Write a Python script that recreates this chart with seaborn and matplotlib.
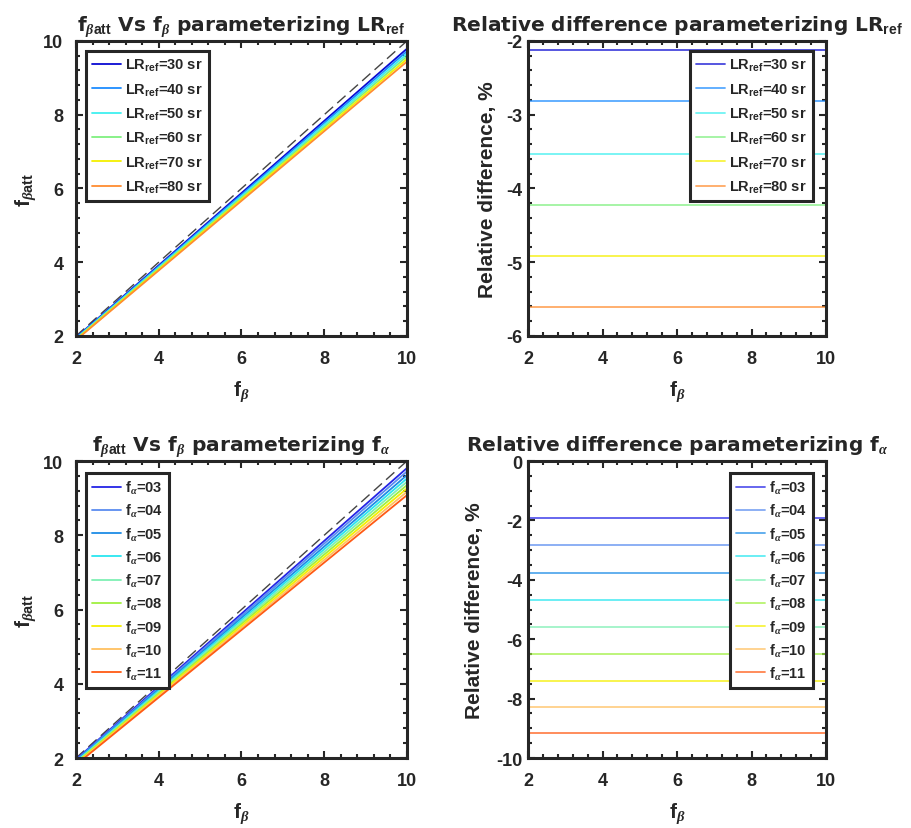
import numpy as np
import pandas as pd
import matplotlib
matplotlib.use("Agg")
import matplotlib.pyplot as plt
import seaborn as sns
from matplotlib.ticker import MultipleLocator

# data
f_beta = [2, 10]

lr_labels = ["30", "40", "50", "60", "70", "80"]
lr_colors = ["#0a0ad2", "#1e8cff", "#3ff0f0", "#7ff07f", "#f5f000", "#ff8c30"]
lr_reldiff = [-2.12, -2.82, -3.53, -4.23, -4.92, -5.61]
lr_fbatt_start = [1.958, 1.944, 1.929, 1.915, 1.902, 1.888]
lr_fbatt_end = [9.79, 9.72, 9.65, 9.58, 9.51, 9.44]

fa_labels = ["03", "04", "05", "06", "07", "08", "09", "10", "11"]
fa_colors = ["#2424e6", "#5a8cf0", "#1e8ce6", "#2ae6f0", "#7ff0b4",
             "#a0f040", "#f5f000", "#ffc060", "#ff5a14"]
fa_reldiff = [-1.91, -2.84, -3.77, -4.69, -5.60, -6.50, -7.41, -8.29, -9.17]
fa_fbatt_start = [1.962, 1.943, 1.925, 1.906, 1.888, 1.870, 1.852, 1.834, 1.817]
fa_fbatt_end = [9.81, 9.72, 9.62, 9.53, 9.44, 9.35, 9.26, 9.17, 9.08]

sns.set_theme(style="ticks")
plt.rcParams["font.family"] = ["Liberation Sans", "DejaVu Sans"]
plt.rcParams["font.weight"] = "bold"
plt.rcParams["axes.unicode_minus"] = False
plt.rcParams["mathtext.fontset"] = "custom"
plt.rcParams["mathtext.rm"] = "Liberation Sans:bold"
plt.rcParams["mathtext.bf"] = "Liberation Sans:bold"
plt.rcParams["mathtext.it"] = "Liberation Serif:italic"
plt.rcParams["mathtext.default"] = "rm"

dark = "#262626"
title_font = {"family": ["DejaVu Sans"], "weight": "bold", "size": 14.5}

fig = plt.figure(figsize=(9.11, 8.29), dpi=100)
ax1 = fig.add_axes([0.0834, 0.5935, 0.3633, 0.3559])
ax2 = fig.add_axes([0.5796, 0.5935, 0.3271, 0.3559])
ax3 = fig.add_axes([0.0834, 0.0844, 0.3633, 0.3583])
ax4 = fig.add_axes([0.5796, 0.0844, 0.3271, 0.3583])


def style_axes(ax, ymin, ymax, ymajor, yminor, ypad):
    ax.set_xlim(2, 10)
    ax.set_ylim(ymin, ymax)
    ax.xaxis.set_major_locator(MultipleLocator(2))
    ax.xaxis.set_minor_locator(MultipleLocator(0.4))
    ax.yaxis.set_major_locator(MultipleLocator(ymajor))
    ax.yaxis.set_minor_locator(MultipleLocator(yminor))
    ax.tick_params(which="both", direction="in", top=True, right=True,
                   colors=dark, width=1.5)
    ax.tick_params(which="major", length=5, labelsize=13)
    ax.tick_params(axis="x", which="major", pad=10)
    ax.tick_params(axis="y", which="major", pad=ypad)
    ax.tick_params(which="minor", length=3)
    for lab in ax.get_xticklabels() + ax.get_yticklabels():
        lab.set_fontweight("bold")
    for s in ax.spines.values():
        s.set_linewidth(2.2)
        s.set_color(dark)
    ax.set_xlabel(r"f$_{\mathit{\beta}}$", fontsize=15, fontweight="bold",
                  labelpad=8)


def add_legend(ax, loc, anchor, spacing):
    leg = ax.legend(loc=loc, bbox_to_anchor=anchor, borderaxespad=0,
                    frameon=True, fancybox=False, framealpha=1,
                    edgecolor=dark, handlelength=2.0,
                    handletextpad=0.3, labelspacing=spacing, borderpad=0.4,
                    prop={"weight": "bold", "size": 10.5})
    leg.get_frame().set_linewidth(2.2)


def fbatt_plot(ax, labels, colors, starts, ends, prefix):
    ax.plot(f_beta, f_beta, "--", color="#444444", lw=1.0, dashes=(8, 4))
    for lab, c, s, e in zip(labels, colors, starts, ends):
        df = pd.DataFrame({"f_beta": f_beta, "f_batt": [s, e]})
        sns.lineplot(data=df, x="f_beta", y="f_batt", color=c, lw=1.3,
                     label=prefix % lab, ax=ax)


def reldiff_plot(ax, labels, colors, vals, prefix):
    for lab, c, v in zip(labels, colors, vals):
        df = pd.DataFrame({"f_beta": f_beta, "rd": [v, v]})
        sns.lineplot(data=df, x="f_beta", y="rd", color=c, lw=1.3,
                     alpha=0.75, label=prefix % lab, ax=ax)


lr_fmt = r"LR$_{\mathbf{ref}}$=%s sr"
fa_fmt = r"f$_{\mathit{\alpha}}$=%s"
fbatt_lbl = r"f$_{\mathit{\beta}\mathbf{att}}$"

fbatt_plot(ax1, lr_labels, lr_colors, lr_fbatt_start, lr_fbatt_end, lr_fmt)
style_axes(ax1, 2, 10, 2, 0.4, 9)
ax1.set_ylabel(fbatt_lbl, fontsize=15, fontweight="bold")
ax1.set_title(fbatt_lbl + r" Vs f$_{\mathit{\beta}}$ parameterizing LR$_{\mathbf{ref}}$",
              fontdict=title_font, pad=8)
add_legend(ax1, "upper left", (0.03, 0.966), 0.55)

reldiff_plot(ax2, lr_labels, lr_colors, lr_reldiff, lr_fmt)
style_axes(ax2, -6, -2, 1, 0.2, 4)
ax2.set_ylabel("Relative difference, %", fontsize=15, fontweight="bold",
               labelpad=7)
ax2.set_title(r"Relative difference parameterizing LR$_{\mathbf{ref}}$",
              fontdict=title_font, pad=8)
add_legend(ax2, "upper right", (0.956, 0.966), 0.55)

fbatt_plot(ax3, fa_labels, fa_colors, fa_fbatt_start, fa_fbatt_end, fa_fmt)
style_axes(ax3, 2, 10, 2, 0.4, 9)
ax3.set_ylabel(fbatt_lbl, fontsize=15, fontweight="bold")
ax3.set_title(fbatt_lbl + r" Vs f$_{\mathit{\beta}}$ parameterizing f$_{\mathit{\alpha}}$",
              fontdict=title_font, pad=8)
add_legend(ax3, "upper left", (0.03, 0.96), 0.4)

reldiff_plot(ax4, fa_labels, fa_colors, fa_reldiff, fa_fmt)
style_axes(ax4, -10, 0, 2, 0.5, 4)
ax4.set_ylabel("Relative difference, %", fontsize=15, fontweight="bold",
               labelpad=9)
ax4.set_title(r"Relative difference parameterizing f$_{\mathit{\alpha}}$",
              fontdict=title_font, pad=8)
add_legend(ax4, "upper right", (0.956, 0.96), 0.4)

fig.savefig("out.png", dpi=100)
